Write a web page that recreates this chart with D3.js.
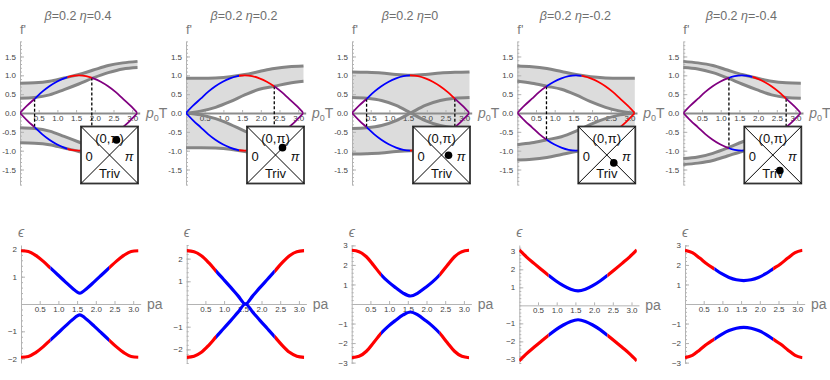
<!DOCTYPE html>
<html><head><meta charset="utf-8">
<script src="https://cdn.jsdelivr.net/npm/d3@7"></script>
<style>body{margin:0;background:#fff} text{font-family:"Liberation Sans",Arial,sans-serif}</style>
</head><body><svg id="c" width="830" height="380"></svg>
<script>
// ---------- data ----------
const beta = 0.2;
const etas = [0.4, 0.2, 0, -0.2, -0.4];
const etaLabels = ["0.4", "0.2", "0", "-0.2", "-0.4"];
// band boundaries (upper band; lower band is its mirror)
const bandX = [0, 0.39, 0.79, 1.18, 1.57, 1.96, 2.36, 2.75, 3.1416];
const bandOuter = [
  [0.79, 0.80, 0.84, 0.93, 1.02, 1.14, 1.26, 1.33, 1.37],
  [0.92, 0.92, 0.93, 0.96, 1.02, 1.10, 1.18, 1.23, 1.25],
  [1.09, 1.08, 1.06, 1.02, 1.00, 1.02, 1.06, 1.08, 1.09],
  [1.25, 1.23, 1.18, 1.10, 1.02, 0.96, 0.93, 0.92, 0.92],
  [1.37, 1.33, 1.26, 1.14, 1.02, 0.93, 0.84, 0.80, 0.79]
];
const bandInner = [
  [0.39, 0.41, 0.48, 0.62, 0.77, 0.93, 1.07, 1.17, 1.21],
  [0.00, 0.05, 0.15, 0.30, 0.48, 0.63, 0.71, 0.79, 0.84],
  [0.41, 0.39, 0.33, 0.20, 0.00, -0.20, -0.33, -0.39, -0.41],
  [0.84, 0.79, 0.71, 0.63, 0.48, 0.30, 0.15, 0.05, 0.00],
  [1.21, 1.17, 1.07, 0.93, 0.77, 0.62, 0.48, 0.41, 0.39]
];
// f' curve (upper; lower is mirror)
const curveX = [0, 0.196, 0.393, 0.589, 0.785, 0.982, 1.178, 1.374, 1.571, 1.767, 1.963, 2.160, 2.356, 2.553, 2.749, 2.945, 3.1416];
const curveY = [0, 0.20, 0.38, 0.56, 0.71, 0.83, 0.92, 0.98, 1.00, 0.98, 0.92, 0.83, 0.71, 0.56, 0.38, 0.20, 0];
// coloured pieces of the f' curve: [from, to, colour]
const curveSegs = [
  [[0, 0.39, "purple"], [0.39, 1.27, "blue"], [1.27, 1.92, "red"], [1.92, 3.1416, "purple"]],
  [[0, 1.42, "blue"], [1.42, 2.36, "red"], [2.36, 3.1416, "purple"]],
  [[0, 0.39, "purple"], [0.39, 1.55, "blue"], [1.55, 2.75, "red"], [2.75, 3.1416, "purple"]],
  [[0, 0.78, "purple"], [0.78, 1.72, "blue"], [1.72, 3.1416, "red"]],
  [[0, 1.22, "purple"], [1.22, 1.85, "blue"], [1.85, 2.75, "red"], [2.75, 3.1416, "purple"]]
];
// dashed markers [x, f'(x)]
const dashes = [
  [[0.39, 0.38], [1.92, 0.94]],
  [[2.36, 0.71]],
  [[0.39, 0.38], [2.75, 0.38]],
  [[0.78, 0.71]],
  [[1.22, 0.94], [2.75, 0.38]]
];
// dispersion ε(pa) (upper branch; lower is mirror)
const epsX = curveX;
const epsY = [
  [1.95, 1.92, 1.78, 1.57, 1.32, 1.07, 0.82, 0.58, 0.40, 0.58, 0.82, 1.07, 1.32, 1.57, 1.78, 1.92, 1.95],
  [2.35, 2.30, 2.13, 1.82, 1.45, 1.09, 0.73, 0.36, 0.00, 0.36, 0.73, 1.09, 1.45, 1.82, 2.13, 2.30, 2.35],
  [2.75, 2.68, 2.42, 1.97, 1.50, 1.13, 0.83, 0.56, 0.41, 0.56, 0.83, 1.13, 1.50, 1.97, 2.42, 2.68, 2.75],
  [3.08, 2.68, 2.33, 1.99, 1.66, 1.35, 1.09, 0.89, 0.80, 0.89, 1.09, 1.35, 1.66, 1.99, 2.33, 2.68, 3.08],
  [2.75, 2.63, 2.35, 2.05, 1.80, 1.55, 1.36, 1.24, 1.20, 1.24, 1.36, 1.55, 1.80, 2.05, 2.35, 2.63, 2.75]
];
const epsSegs = [[0, 0.785, "red"], [0.785, 2.356, "blue"], [2.356, 3.1416, "red"]];
const epsDomains = [[-2.16, 2.16], [-2.6, 2.6], [-3.02, 3.02], [-3.2, 3.35], [-3.02, 3.02]];
const epsTicks = [[-2, -1, 1, 2], [-2, -1, 1, 2], [-3, -2, -1, 1, 2, 3], [-3, -2, -1, 1, 2, 3], [-3, -2, -1, 1, 2, 3]];
const xTicks = [0.5, 1.0, 1.5, 2.0, 2.5, 3.0];
const fTicks = [-1.5, -1.0, -0.5, 0.0, 0.5, 1.0, 1.5];
const boxLabels = ["(0,π)", "0", "π", "Triv"];

// ---------- layout ----------
const svg = d3.select("#c");
const topX0 = [20, 186, 352, 517.3, 683.3];
const botX0 = [21, 186.7, 351.7, 519.3, 685];
const PX = 37.4; // px per unit in x
const XMAX = 3.2;
const topY = [184.6, 41.4];
const botY = [363, 245];
const AX = "#b3b3b3", TICKTXT = "#444", LAB = "#7a7a7a";
let clipId = 0;

function styleAxis(g, labelColor) {
  g.selectAll("text").attr("fill", labelColor).attr("font-size", 8).attr("font-family", '"Liberation Sans",Arial,sans-serif');
  g.selectAll("line").attr("stroke", AX);
  g.select(".domain").attr("stroke", AX);
}

function clippedPath(g, d, x0, x1, xs, ysTop, ysBot, colour, width) {
  const id = "clip" + (clipId++);
  svg.append("clipPath").attr("id", id).append("rect")
    .attr("x", xs(x0)).attr("width", xs(x1) - xs(x0))
    .attr("y", ysTop).attr("height", ysBot - ysTop);
  g.append("path").attr("d", d).attr("fill", "none").attr("stroke", colour)
    .attr("stroke-width", width).attr("clip-path", `url(#${id})`);
}

etas.forEach((eta, i) => {
  // ===== top panel =====
  const x = d3.scaleLinear().domain([0, XMAX]).range([topX0[i], topX0[i] + XMAX * PX]);
  const y = d3.scaleLinear().domain([-1.9, 1.9]).range(topY);
  const g = svg.append("g");

  // title
  const t = g.append("text").attr("x", topX0[i] + 58).attr("y", 20).attr("text-anchor", "middle")
    .attr("font-size", 12.5).attr("fill", "#6e6e6e");
  t.append("tspan").attr("font-style", "italic").text("β");
  t.append("tspan").text("=" + beta + " ");
  t.append("tspan").attr("font-style", "italic").text("η");
  t.append("tspan").text("=" + etaLabels[i]);

  // bands
  const rows = bandX.map((bx, k) => ({ x: bx, o: bandOuter[i][k], n: bandInner[i][k] }));
  const areaUp = d3.area().x(d => x(d.x)).y0(d => y(d.n)).y1(d => y(d.o)).curve(d3.curveMonotoneX);
  const areaDn = d3.area().x(d => x(d.x)).y0(d => y(-d.n)).y1(d => y(-d.o)).curve(d3.curveMonotoneX);
  g.append("path").attr("d", areaUp(rows)).attr("fill", "#dcdcdc");
  g.append("path").attr("d", areaDn(rows)).attr("fill", "#dcdcdc");

  // axes
  const yAx = g.append("g").attr("transform", `translate(${x(0)},0)`)
    .call(d3.axisLeft(y).tickValues(fTicks).tickSize(-4).tickSizeOuter(0).tickPadding(4)
      .tickFormat(v => d3.format(".1f")(v).replace("−", "-")));
  styleAxis(yAx, TICKTXT);
  const yMin = g.append("g").attr("transform", `translate(${x(0)},0)`)
    .call(d3.axisLeft(y).tickValues(d3.range(-19, 20).map(v => v / 10)).tickSize(-2).tickSizeOuter(0).tickFormat(""));
  styleAxis(yMin, TICKTXT);
  yMin.select(".domain").remove();

  const xAx = g.append("g").attr("transform", `translate(0,${y(0)})`)
    .call(d3.axisBottom(x).tickValues(xTicks).tickSize(-3).tickSizeOuter(0).tickPadding(2).tickFormat(d3.format(".1f")));
  styleAxis(xAx, TICKTXT);
  xAx.select(".domain").attr("stroke", "#8c8c8c").attr("stroke-width", 2);

  // band boundary lines
  const lnO = d3.line().x(d => x(d.x)).y(d => y(d.o)).curve(d3.curveMonotoneX);
  const lnN = d3.line().x(d => x(d.x)).y(d => y(d.n)).curve(d3.curveMonotoneX);
  const lnOm = d3.line().x(d => x(d.x)).y(d => y(-d.o)).curve(d3.curveMonotoneX);
  const lnNm = d3.line().x(d => x(d.x)).y(d => y(-d.n)).curve(d3.curveMonotoneX);
  [lnO, lnN, lnOm, lnNm].forEach(l => g.append("path").attr("d", l(rows)).attr("fill", "none")
    .attr("stroke", "#858585").attr("stroke-width", 3));

  // dashed markers
  dashes[i].forEach(([dx, dy]) => {
    g.append("path").attr("d", d3.line().x(d => x(d[0])).y(d => y(d[1]))([[dx, dy], [dx, -dy]]))
      .attr("stroke", "#000").attr("stroke-width", 1.3).attr("stroke-dasharray", "3,2");
  });

  // f' curves
  const pts = curveX.map((cx, k) => [cx, curveY[k]]);
  const up = d3.line().x(d => x(d[0])).y(d => y(d[1])).curve(d3.curveMonotoneX)(pts);
  const dn = d3.line().x(d => x(d[0])).y(d => y(-d[1])).curve(d3.curveMonotoneX)(pts);
  curveSegs[i].forEach(([a, b, c]) => {
    clippedPath(g, up, a, b, x, 30, 200, c, 1.8);
    clippedPath(g, dn, a, b, x, 30, 200, c, 1.8);
  });

  // axis labels
  g.append("text").attr("x", x(0)).attr("y", 34).attr("font-size", 13).attr("fill", LAB).text("f'");
  const pl = g.append("text").attr("x", x(0) + 126).attr("y", y(0) + 5).attr("font-size", 14).attr("fill", LAB);
  pl.append("tspan").attr("font-style", "italic").text("p");
  pl.append("tspan").attr("font-size", 9).attr("dy", 3).text("0");
  pl.append("tspan").attr("dy", -3).text("T");

  // inset phase box
  const L = x(0) + 61, T = 126.5, S = 57;
  const box = g.append("g");
  box.append("rect").attr("x", L).attr("y", T).attr("width", S).attr("height", S)
    .attr("fill", "#fff").attr("stroke", "#333").attr("stroke-width", 1.8);
  box.append("line").attr("x1", L).attr("y1", T).attr("x2", L + S).attr("y2", T + S).attr("stroke", "#000");
  box.append("line").attr("x1", L + S).attr("y1", T).attr("x2", L).attr("y2", T + S).attr("stroke", "#000");
  const lp = [[S / 2, 16], [8, 34], [S - 9, 34], [S / 2, 51]];
  boxLabels.forEach((lbl, k) => {
    box.append("text").attr("x", L + lp[k][0]).attr("y", T + lp[k][1]).attr("text-anchor", "middle")
      .attr("font-size", 13).attr("fill", "#111")
      .attr("font-style", lbl === "π" ? "italic" : null).text(lbl);
  });
  const dotY = d3.scaleLinear().domain([-0.4, 0.4]).range([T + S / 2 + 15.5, T + S / 2 - 15]);
  box.append("circle").attr("cx", L + S / 2 + 7).attr("cy", dotY(eta)).attr("r", 3.8).attr("fill", "#000");

  // ===== bottom panel =====
  const bx = d3.scaleLinear().domain([0, XMAX]).range([botX0[i], botX0[i] + XMAX * PX]);
  const by = d3.scaleLinear().domain(epsDomains[i]).range(botY);
  const gb = svg.append("g");
  const byAx = gb.append("g").attr("transform", `translate(${bx(0)},0)`)
    .call(d3.axisLeft(by).tickValues(epsTicks[i]).tickSize(-4).tickSizeOuter(0).tickPadding(4).tickFormat(d3.format("d")));
  styleAxis(byAx, TICKTXT);
  const [lo, hi] = epsDomains[i];
  const byMin = gb.append("g").attr("transform", `translate(${bx(0)},0)`)
    .call(d3.axisLeft(by).tickValues(d3.range(Math.ceil(lo * 5), Math.floor(hi * 5) + 1).map(v => v / 5))
      .tickSize(-2).tickSizeOuter(0).tickFormat(""));
  styleAxis(byMin, TICKTXT);
  byMin.select(".domain").remove();
  const bxAx = gb.append("g").attr("transform", `translate(0,${by(0)})`)
    .call(d3.axisBottom(bx).tickValues(xTicks).tickSize(-3).tickSizeOuter(0).tickPadding(2).tickFormat(d3.format(".1f")));
  styleAxis(bxAx, TICKTXT);

  const ep = epsX.map((ex, k) => [ex, epsY[i][k]]);
  const eu = d3.line().x(d => bx(d[0])).y(d => by(d[1])).curve(d3.curveMonotoneX)(ep);
  const ed = d3.line().x(d => bx(d[0])).y(d => by(-d[1])).curve(d3.curveMonotoneX)(ep);
  epsSegs.forEach(([a, b, c]) => {
    clippedPath(gb, eu, a, b, bx, 235, 375, c, 3.2);
    clippedPath(gb, ed, a, b, bx, 235, 375, c, 3.2);
  });

  gb.append("text").attr("x", bx(0) - 3).attr("y", 237).attr("font-size", 14).attr("font-style", "italic")
    .attr("fill", LAB).text("ϵ");
  gb.append("text").attr("x", bx(0) + 126).attr("y", by(0) + 5).attr("font-size", 14).attr("fill", LAB).text("pa");
});
</script></body></html>
